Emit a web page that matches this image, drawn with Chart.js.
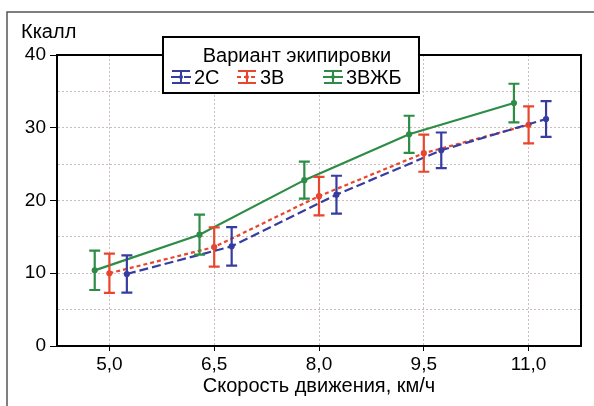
<!DOCTYPE html>
<html>
<head>
<meta charset="utf-8">
<script src="https://cdn.jsdelivr.net/npm/chart.js@4.4.0/dist/chart.umd.min.js"></script>
<style>
  html, body { margin: 0; padding: 0; background: #fff; }
  #wrap { width: 594px; height: 406px; }
</style>
</head>
<body>
<div id="wrap"><canvas id="chart" width="594" height="406"></canvas></div>
<script>
// data
const speeds = [5.0, 6.5, 8.0, 9.5, 11.0];
const speedLabels = ['5,0', '6,5', '8,0', '9,5', '11,0'];
const kcal2C = [9.9, 13.7, 20.8, 26.9, 31.2];
const err2C = [2.55, 2.65, 2.6, 2.45, 2.45];
const kcal3V = [10.0, 13.6, 20.6, 26.5, 30.4];
const err3V = [2.7, 2.7, 2.65, 2.55, 2.55];
const kcal3VZhB = [10.4, 15.3, 22.8, 29.1, 33.4];
const err3VZhB = [2.7, 2.75, 2.55, 2.55, 2.65];
const yLabelTicks = [0, 10, 20, 30, 40];

const FONT = '"Liberation Sans", Arial, sans-serif';
const BLUE = 'rgb(55, 60, 160)';
const RED = 'rgb(232, 70, 45)';
const GREEN = 'rgb(45, 140, 70)';

Chart.defaults.font.family = FONT;
Chart.defaults.color = '#000';

function series(values, shift) {
  return speeds.map((s, i) => ({ x: s + shift, y: values[i] }));
}

// vertical error bars with caps
const errorBars = {
  id: 'errorBars',
  afterDatasetsDraw(chart) {
    const { ctx, scales: { x, y } } = chart;
    chart.data.datasets.forEach(ds => {
      ctx.save();
      ctx.strokeStyle = ds.borderColor;
      ctx.lineWidth = 2.2;
      ctx.setLineDash([]);
      ds.data.forEach((p, i) => {
        const px = x.getPixelForValue(p.x);
        const top = y.getPixelForValue(p.y + ds.errors[i]);
        const bot = y.getPixelForValue(p.y - ds.errors[i]);
        ctx.beginPath();
        ctx.moveTo(px, top); ctx.lineTo(px, bot);
        ctx.moveTo(px - 5.5, top); ctx.lineTo(px + 5.5, top);
        ctx.moveTo(px - 5.5, bot); ctx.lineTo(px + 5.5, bot);
        ctx.stroke();
      });
      ctx.restore();
    });
  }
};

function legendIcon(ctx, cx, cy, color, dash) {
  ctx.save();
  ctx.strokeStyle = color;
  ctx.fillStyle = color;
  ctx.lineWidth = 2;
  ctx.setLineDash(dash);
  ctx.beginPath(); ctx.moveTo(cx - 10, cy); ctx.lineTo(cx + 10, cy); ctx.stroke();
  ctx.setLineDash([]);
  ctx.beginPath();
  ctx.moveTo(cx, cy - 7); ctx.lineTo(cx, cy + 7);
  ctx.moveTo(cx - 9, cy - 6); ctx.lineTo(cx + 9, cy - 6);
  ctx.moveTo(cx - 9, cy + 6); ctx.lineTo(cx + 9, cy + 6);
  ctx.stroke();
  ctx.beginPath(); ctx.arc(cx, cy, 2, 0, Math.PI * 2); ctx.fill();
  ctx.restore();
}

// frame, plot box, unit label, axis title and legend box
const decorations = {
  id: 'decorations',
  afterDraw(chart) {
    const { ctx, chartArea: a } = chart;
    ctx.save();
    ctx.strokeStyle = '#555';
    ctx.lineWidth = 1.5;
    ctx.beginPath();
    ctx.moveTo(7, 406); ctx.lineTo(7, 12); ctx.lineTo(594, 12);
    ctx.stroke();

    ctx.strokeStyle = '#000';
    ctx.lineWidth = 2;
    ctx.strokeRect(a.left, a.top, a.right - a.left, a.bottom - a.top);

    ctx.fillStyle = '#000';
    ctx.font = '20px ' + FONT;
    ctx.textBaseline = 'middle';
    ctx.textAlign = 'left';
    ctx.fillText('Ккалл', 21, 32);
    ctx.textAlign = 'center';
    ctx.fillText('Скорость движения, км/ч', (a.left + a.right) / 2, 386);

    // legend
    ctx.fillStyle = '#fff';
    ctx.fillRect(163, 37, 256, 56);
    ctx.strokeRect(163, 37, 256, 56);
    ctx.fillStyle = '#000';
    ctx.textAlign = 'center';
    ctx.fillText('Вариант экипировки', 297, 56);
    ctx.textAlign = 'left';
    chart.data.datasets.forEach((ds, i) => {
      const ix = [181, 247, 333][i];
      legendIcon(ctx, ix, 77, ds.borderColor, ds.borderDash || []);
      ctx.fillStyle = '#000';
      ctx.fillText(ds.label, ix + 13, 78);
    });
    ctx.restore();
  }
};

new Chart(document.getElementById('chart'), {
  type: 'line',
  data: {
    datasets: [
      { label: '2С', data: series(kcal2C, 0.25), errors: err2C,
        borderColor: BLUE, backgroundColor: BLUE, borderDash: [9, 4] },
      { label: '3В', data: series(kcal3V, 0), errors: err3V,
        borderColor: RED, backgroundColor: RED, borderDash: [4, 3] },
      { label: '3ВЖБ', data: series(kcal3VZhB, -0.21), errors: err3VZhB,
        borderColor: GREEN, backgroundColor: GREEN }
    ].map(ds => ({ ...ds, borderWidth: 2.2, pointRadius: 2, pointHoverRadius: 2, tension: 0 }))
  },
  options: {
    responsive: false,
    animation: false,
    layout: { padding: { left: 8, right: 13, top: 55, bottom: 0 } },
    plugins: { legend: { display: false }, tooltip: { enabled: false } },
    scales: {
      x: {
        type: 'linear', min: 4.25, max: 11.75,
        afterBuildTicks: s => { s.ticks = speeds.map(v => ({ value: v })); },
        afterFit: s => { s.height = 60; },
        ticks: {
          autoSkip: false, maxRotation: 0, padding: 2,
          font: { size: 19 }, color: '#000',
          callback: v => speedLabels[speeds.indexOf(v)]
        },
        grid: { color: '#c8bebe', lineWidth: 1, tickLength: 5, tickColor: '#000', tickBorderDash: [] },
        border: { color: '#000', width: 2, dash: [2, 2] }
      },
      y: {
        min: 0, max: 40,
        ticks: {
          stepSize: 5, padding: 4, font: { size: 19 }, color: '#000',
          callback: v => (yLabelTicks.includes(v) ? String(v) : '')
        },
        afterFit: s => { s.width = 49; },
        grid: {
          color: '#c8bebe', lineWidth: 1, tickLength: 7, tickBorderDash: [],
          tickColor: c => (yLabelTicks.includes(c.tick.value) ? '#000' : 'rgba(0,0,0,0)')
        },
        border: { color: '#000', width: 2, dash: [2, 2] }
      }
    }
  },
  plugins: [errorBars, decorations]
});
</script>
</body>
</html>
